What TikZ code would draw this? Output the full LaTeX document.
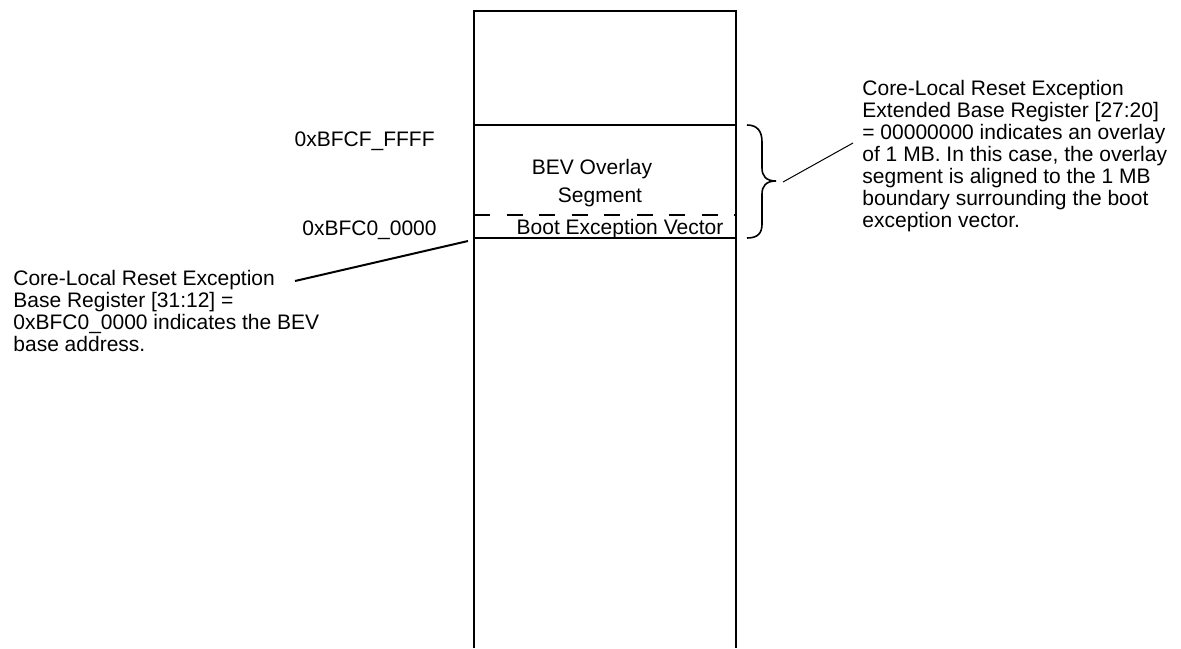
\documentclass[tikz,border=0pt]{standalone}
\usepackage{fontspec}
\setmainfont{Liberation Sans}
\begin{document}
\begin{tikzpicture}[x=0.5pt,y=-0.5pt,
  lbl/.style={inner sep=0pt,font=\fontsize{10.5}{11}\selectfont},
  para/.style={lbl,align=left,anchor=north west},
  col/.style={line width=1pt},
  sep/.style={line width=0.8pt},
  dsep/.style={line width=0.8pt,dash pattern=on 8pt off 8.25pt},
  lead/.style={line width=1pt},
  thin/.style={line width=0.5pt}]
\useasboundingbox (0,0) rectangle (1181,648);
% column
\coordinate (cbl) at (474,648);
\coordinate (ctl) at (474,11);
\coordinate (ctr) at (736,11);
\coordinate (cbr) at (736,648);
\draw[col] (cbl) -- (ctl) -- (ctr) -- (cbr);
\coordinate (l1a) at (474,125); \coordinate (l1b) at (736,125);
\coordinate (l2a) at (474,215); \coordinate (l2b) at (736,215);
\coordinate (l3a) at (474,238); \coordinate (l3b) at (736,238);
\draw[sep] (l1a) -- (l1b);
\draw[dsep] (l2a) -- (l2b);
\draw[sep] (l3a) -- (l3b);
% labels
\node[lbl,anchor=base east] (top) at (435,146) {0xBFCF\_FFFF};
\node[lbl,anchor=base east] (base) at (437,235) {0xBFC0\_0000};
\node[lbl,anchor=base] (bev) at (592,174) {BEV Overlay};
\node[lbl,anchor=base] (seg) at (600,202) {Segment};
\node[lbl,anchor=base] (boot) at (620,234) {Boot Exception Vector};
% left note
\node[para] (lnote) at (13,270) {Core-Local Reset Exception\\Base Register [31:12] =\\0xBFC0\_0000 indicates the BEV\\base address.};
\coordinate (lstart) at (295,281);
\coordinate (lend) at (468,241);
\draw[lead] (lstart) -- (lend);
% brace
\coordinate (btop) at (747,125);
\coordinate (btip) at (776,181);
\coordinate (bbot) at (747,238);
\draw[sep] (btop) .. controls (758,125) and (762,132) .. (762,142) -- (762,168)
  .. controls (762,176) and (766,181) .. (btip)
  .. controls (766,181) and (762,186) .. (762,194) -- (762,224)
  .. controls (762,233) and (758,238) .. (bbot);
% right note
\node[para] (rnote) at (862,80) {Core-Local Reset Exception\\Extended Base Register [27:20]\\= 00000000 indicates an overlay\\of 1 MB. In this case, the overlay\\segment is aligned to the 1 MB\\boundary surrounding the boot\\exception vector.};
\coordinate (rs) at (783,182);
\coordinate (re) at (853,143);
\draw[thin] (rs) -- (re);
\end{tikzpicture}
\end{document}
